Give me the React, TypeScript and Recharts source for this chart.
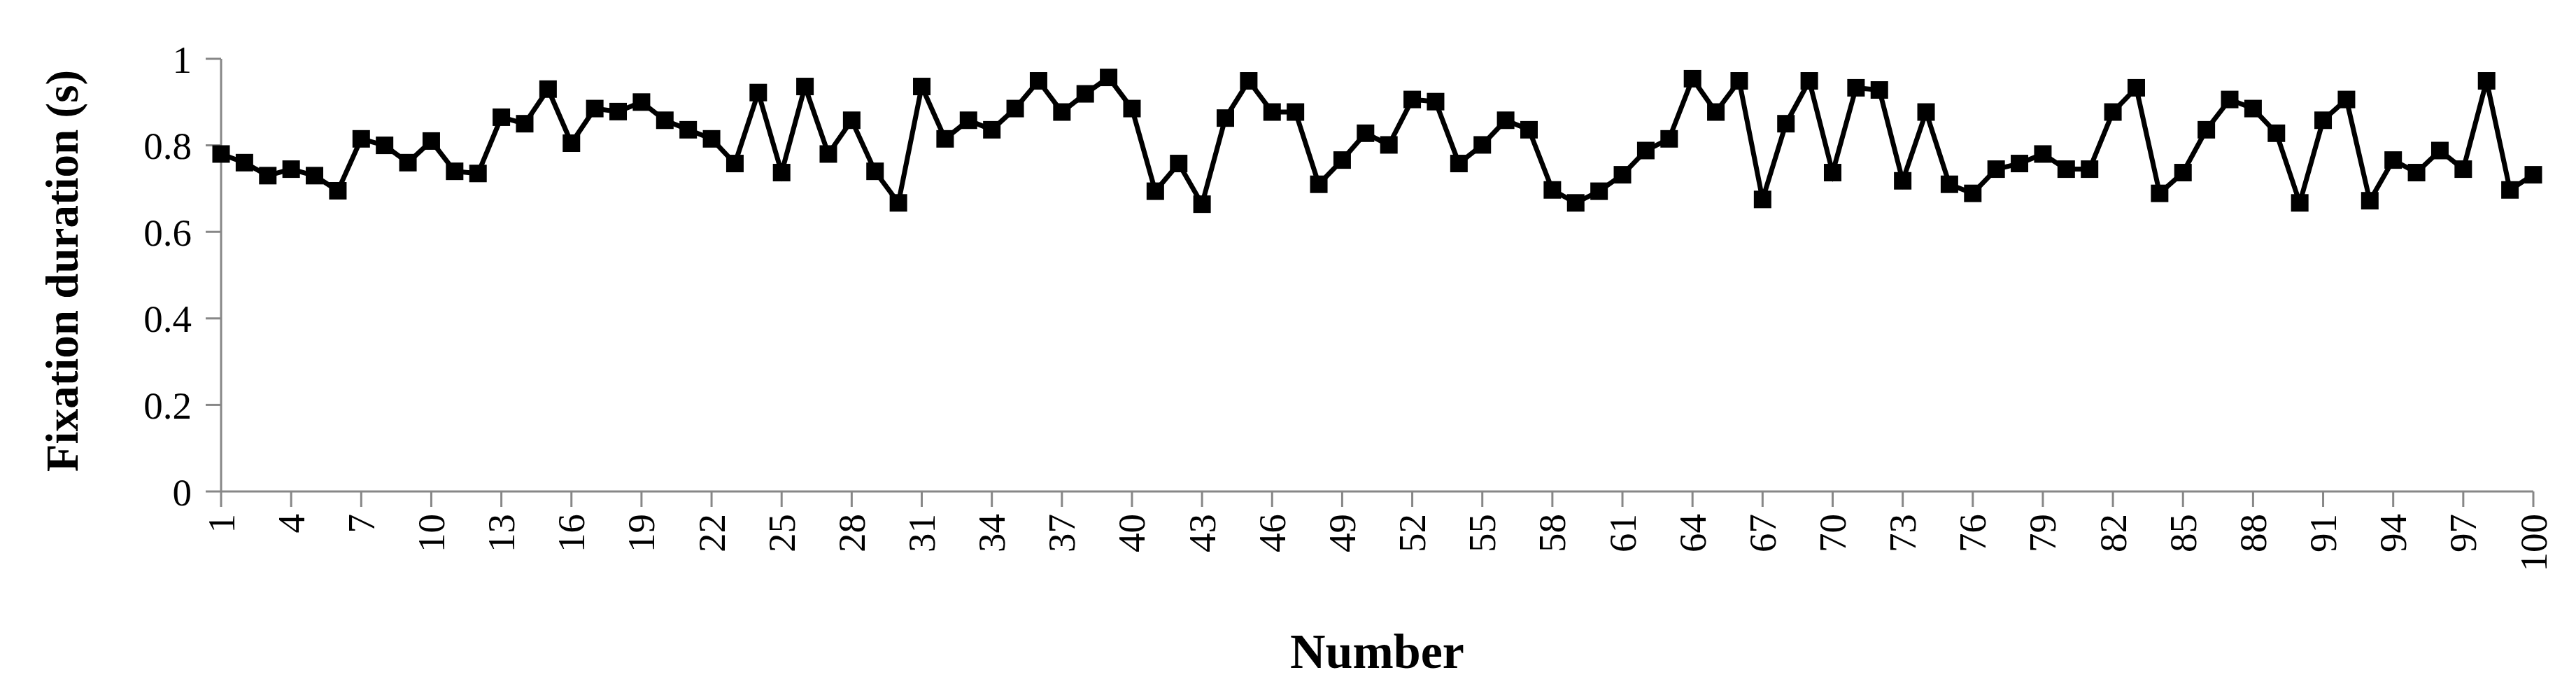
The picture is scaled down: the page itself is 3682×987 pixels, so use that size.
// Fixation duration per trial number
// Line chart with square markers, drawn with Recharts

import React from "react";
import { LineChart, Line, XAxis, YAxis, Label } from "recharts";

const trialNumbers = [
  1, 2, 3, 4, 5, 6, 7, 8, 9, 10,
  11, 12, 13, 14, 15, 16, 17, 18, 19, 20,
  21, 22, 23, 24, 25, 26, 27, 28, 29, 30,
  31, 32, 33, 34, 35, 36, 37, 38, 39, 40,
  41, 42, 43, 44, 45, 46, 47, 48, 49, 50,
  51, 52, 53, 54, 55, 56, 57, 58, 59, 60,
  61, 62, 63, 64, 65, 66, 67, 68, 69, 70,
  71, 72, 73, 74, 75, 76, 77, 78, 79, 80,
  81, 82, 83, 84, 85, 86, 87, 88, 89, 90,
  91, 92, 93, 94, 95, 96, 97, 98, 99, 100,
];

const fixationDuration = [
  0.78, 0.76, 0.73, 0.745, 0.73, 0.695, 0.815, 0.8, 0.76, 0.81,
  0.74, 0.735, 0.865, 0.85, 0.93, 0.805, 0.885, 0.878, 0.9, 0.858,
  0.836, 0.815, 0.758, 0.922, 0.737, 0.936, 0.78, 0.858, 0.74, 0.667,
  0.936, 0.815, 0.858, 0.836, 0.885, 0.949, 0.877, 0.919, 0.957, 0.885,
  0.694, 0.758, 0.664, 0.863, 0.949, 0.877, 0.877, 0.71, 0.766, 0.828,
  0.801, 0.906, 0.901, 0.758, 0.801, 0.858, 0.836, 0.697, 0.667, 0.694,
  0.732, 0.788, 0.815, 0.954, 0.877, 0.949, 0.675, 0.85, 0.949, 0.737,
  0.933, 0.928, 0.718, 0.877, 0.71, 0.689, 0.745, 0.758, 0.78, 0.745,
  0.745, 0.877, 0.933, 0.689, 0.737, 0.836, 0.906, 0.885, 0.828, 0.667,
  0.858, 0.906, 0.672, 0.766, 0.737, 0.788, 0.745, 0.949, 0.697, 0.732,
];

const yTicks = [0, 0.2, 0.4, 0.6, 0.8, 1];

const FONT = "'Liberation Serif', 'Times New Roman', serif";
const AXIS_GRAY = "#878787";

const data = trialNumbers.map((n, i) => ({ number: n, duration: fixationDuration[i] }));

// square marker like Excel's default
const SquareDot = (props: any) => {
  const { cx, cy } = props;
  if (cx == null || cy == null) return null;
  const s = 25;
  return <rect x={cx - s / 2} y={cy - s / 2} width={s} height={s} fill="#000" />;
};

const XTick = (props: any) => {
  const { x, y, payload } = props;
  return (
    <text
      x={x}
      y={y}
      transform={`rotate(-90, ${x}, ${y})`}
      textAnchor="end"
      dominantBaseline="central"
      fontSize={55}
      fontFamily={FONT}
      fill="#000"
    >
      {payload.value}
    </text>
  );
};

export default function App() {
  return (
    <div style={{ position: "absolute", left: 0, top: 0, background: "#fff" }}>
      <LineChart
        width={3682}
        height={987}
        data={data}
        margin={{ top: 84, right: 61, bottom: 85, left: 0 }}
      >
        <XAxis
          dataKey="number"
          interval={2}
          height={200}
          tickSize={22}
          tickMargin={10}
          axisLine={{ stroke: AXIS_GRAY, strokeWidth: 3 }}
          tickLine={{ stroke: AXIS_GRAY, strokeWidth: 3 }}
          tick={<XTick />}
        >
          <Label
            content={(p: any) => {
              const vb = p.viewBox || {};
              return (
                <text
                  x={vb.x + vb.width / 2}
                  y={930}
                  textAnchor="middle"
                  dominantBaseline="central"
                  fontSize={70}
                  fontWeight="bold"
                  fontFamily={FONT}
                  fill="#000"
                >
                  Number
                </text>
              );
            }}
          />
        </XAxis>
        <YAxis
          domain={[0, 1]}
          ticks={yTicks}
          width={316}
          tickSize={22}
          tickMargin={20}
          axisLine={{ stroke: AXIS_GRAY, strokeWidth: 3 }}
          tickLine={{ stroke: AXIS_GRAY, strokeWidth: 3 }}
          tick={{ fontSize: 55, fontFamily: FONT, fill: "#000" }}
          tickFormatter={(v: number) => String(v)}
        >
          <Label
            content={(p: any) => {
              const vb = p.viewBox || {};
              const cy = vb.y + vb.height / 2 - 6;
              return (
                <text
                  x={89}
                  y={cy}
                  transform={`rotate(-90, 89, ${cy})`}
                  textAnchor="middle"
                  dominantBaseline="central"
                  fontSize={65}
                  fontWeight="bold"
                  fontFamily={FONT}
                  fill="#000"
                >
                  Fixation duration (s)
                </text>
              );
            }}
          />
        </YAxis>
        <Line
          type="linear"
          dataKey="duration"
          stroke="#000"
          strokeWidth={7}
          dot={<SquareDot />}
          activeDot={false}
          isAnimationActive={false}
        />
      </LineChart>
    </div>
  );
}
